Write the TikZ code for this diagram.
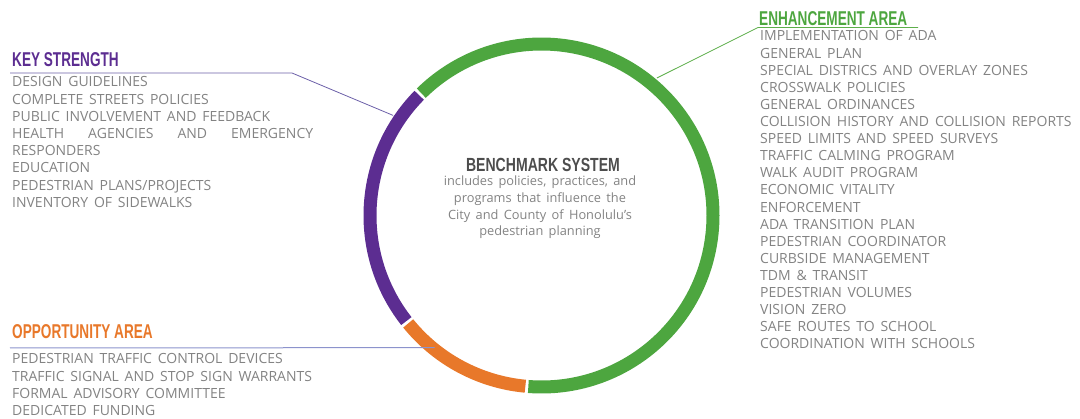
\documentclass[tikz,border=0pt]{standalone}
\usepackage{fontspec}
\usetikzlibrary{calc}
\newfontfamily\itemfont[WordSpace=1.6]{Open Sans}
\newfontfamily\headfont[FakeStretch=0.68]{Liberation Sans}
\newfontfamily\hubfont[FakeStretch=0.74]{Liberation Sans}
\definecolor{kspurple}{HTML}{5C2D91}
\definecolor{oporange}{HTML}{E8782A}
\definecolor{engreen}{HTML}{4DA63F}
\definecolor{txtgray}{HTML}{838383}
\definecolor{dkgray}{HTML}{4D4D4D}
\definecolor{ksline}{HTML}{6B5FA8}
\definecolor{opline}{HTML}{8C93CC}
\definecolor{enline}{HTML}{5DAF4A}

\tikzset{
  item/.style={font=\itemfont\fontsize{14}{17}\selectfont, text=txtgray, inner sep=0pt, anchor=base west},
  head/.style={font=\headfont\bfseries\fontsize{20}{22}\selectfont, inner sep=0pt, anchor=base west},
  ring/.style={line width=13pt},
  leader/.style={line width=0.8pt}
}

\begin{document}
\begin{tikzpicture}[x=1pt, y=-1pt]

\useasboundingbox (0,0) rectangle (1080,419);

% ================================================================
% RING: centre at (541.5,215.5), mid radius 171.5
% ================================================================
\coordinate (hub) at (541.5,215.5);

\draw[ring, kspurple] ($(hub)+(135.5:171.5pt)$) arc[start angle=135.5, end angle=218, radius=171.5pt];
\draw[ring, oporange] ($(hub)+(219:171.5pt)$) arc[start angle=219, end angle=264.6, radius=171.5pt];
\draw[ring, engreen] ($(hub)+(265.6:171.5pt)$) arc[start angle=265.6, end angle=494.5, radius=171.5pt];

% Centre text
\node[font=\hubfont\bfseries\fontsize{19}{21}\selectfont, text=dkgray, inner sep=0pt, anchor=base] (hubtitle) at (543,171.5) {BENCHMARK SYSTEM};
\node[font=\itemfont\fontsize{12.8}{16.8}\selectfont, text=txtgray, inner sep=0pt, anchor=north, align=center] (hubtext) at (540,175.5)
  {includes policies, practices, and\\programs that influence the\\City and County of Honolulu’s\\pedestrian planning};

% ================================================================
% KEY STRENGTH (left, top)
% ================================================================
\node[head, text=kspurple] (kshead) at (12,67) {KEY STRENGTH};
\coordinate (ksstart) at (10,73);
\coordinate (ksbend) at (292,73);
\coordinate (ksring) at ($(hub)+(146:179pt)$);
\draw[leader, ksline] (ksstart) -- (ksbend) -- (ksring);

\foreach \t [count=\i] in {DESIGN GUIDELINES, COMPLETE STREETS POLICIES, PUBLIC INVOLVEMENT AND FEEDBACK,
  \makebox[301pt][s]{HEALTH AGENCIES AND EMERGENCY}, RESPONDERS, EDUCATION,
  PEDESTRIAN PLANS/PROJECTS, INVENTORY OF SIDEWALKS}
  \node[item] (ks\i) at (12,{87+17.2*(\i-1)}) {\t};

% ================================================================
% OPPORTUNITY AREA (left, bottom)
% ================================================================
\node[head, text=oporange] (ophead) at (12,339) {OPPORTUNITY AREA};
\coordinate (opstart) at (10,348);
\coordinate (opring) at ($(hub)+(231:170pt)$);
\draw[line width=1pt, opline] (opstart) -- (opring);

\foreach \t [count=\i] in {PEDESTRIAN TRAFFIC CONTROL DEVICES, TRAFFIC SIGNAL AND STOP SIGN WARRANTS,
  FORMAL ADVISORY COMMITTEE, DEDICATED FUNDING}
  \node[item] (op\i) at (12,{364+17.1*(\i-1)}) {\t};

% ================================================================
% ENHANCEMENT AREA (right)
% ================================================================
\node[head, text=engreen] (enhead) at (759,26) {ENHANCEMENT AREA};
\coordinate (enbend) at (758,27.5);
\coordinate (enend) at (918,27.5);
\coordinate (enring) at ($(hub)+(50:179.5pt)$);
\draw[leader, enline] (enend) -- (enbend) -- (enring);

\foreach \t [count=\i] in {IMPLEMENTATION OF ADA, GENERAL PLAN, SPECIAL DISTRICS AND OVERLAY ZONES,
  CROSSWALK POLICIES, GENERAL ORDINANCES, COLLISION HISTORY AND COLLISION REPORTS,
  SPEED LIMITS AND SPEED SURVEYS, TRAFFIC CALMING PROGRAM, WALK AUDIT PROGRAM,
  ECONOMIC VITALITY, ENFORCEMENT, ADA TRANSITION PLAN, PEDESTRIAN COORDINATOR,
  CURBSIDE MANAGEMENT, TDM \& TRANSIT, PEDESTRIAN VOLUMES, VISION ZERO,
  SAFE ROUTES TO SCHOOL, COORDINATION WITH SCHOOLS}
  \node[item] (en\i) at (760,{41+17.11*(\i-1)}) {\t};

\end{tikzpicture}
\end{document}
